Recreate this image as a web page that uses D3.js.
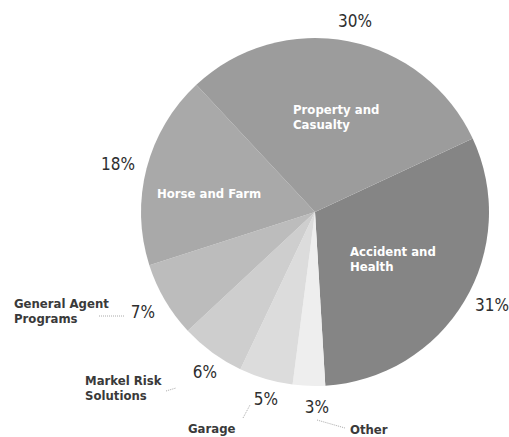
<!DOCTYPE html>
<html>
<head>
<meta charset="utf-8">
<script src="https://cdn.jsdelivr.net/npm/d3@7"></script>
<style>
  html, body { margin: 0; padding: 0; background: #fff; }
  svg { display: block; }
</style>
</head>
<body>
<svg id="chart" width="509" height="437"></svg>
<script>
// Data (clockwise from the Accident and Health slice)
const categories = ["Accident and Health", "Other", "Garage", "Markel Risk Solutions", "General Agent Programs", "Horse and Farm", "Property and Casualty"];
const values = [31, 3, 5, 6, 7, 18, 30];
const percentLabels = ["31%", "3%", "5%", "6%", "7%", "18%", "30%"];
const sliceColors = ["#858585", "#eeeeee", "#dcdcdc", "#cecece", "#bcbcbc", "#a9a9a9", "#9c9c9c"];

const svg = d3.select("#chart");
const cx = 315, cy = 212, r = 174;
const FONT = "'DejaVu Sans Condensed', 'Liberation Sans Narrow', 'Arial Narrow', sans-serif";

const data = categories.map((c, i) => ({ name: c, value: values[i], pct: percentLabels[i], color: sliceColors[i] }));

const pie = d3.pie().sort(null).value(d => d.value)
  .startAngle(65 * Math.PI / 180).endAngle(65 * Math.PI / 180 + 2 * Math.PI);
const arcs = pie(data);
const arc = d3.arc().innerRadius(0).outerRadius(r);

const g = svg.append("g").attr("transform", `translate(${cx},${cy})`);
g.selectAll("path.slice").data(arcs).join("path")
  .attr("class", "slice")
  .attr("d", arc)
  .attr("fill", d => d.data.color);

// Inside (white) labels
const inside = [
  { lines: ["Property and", "Casualty"], x: 293, y: 114 },
  { lines: ["Horse and Farm"], x: 157, y: 198 },
  { lines: ["Accident and", "Health"], x: 350, y: 256 }
];
inside.forEach(l => {
  const t = svg.append("text").attr("x", l.x).attr("y", l.y)
    .attr("fill", "#ffffff")
    .attr("font-family", FONT).attr("font-weight", "bold").attr("font-size", 13);
  l.lines.forEach((s, i) => t.append("tspan").attr("x", l.x).attr("dy", i === 0 ? 0 : 15).text(s));
});

// Percentage labels (outside)
const pctPos = { "31%": [492, 311], "3%": [317, 413], "5%": [266, 405], "6%": [205, 378], "7%": [143, 318], "18%": [118, 170], "30%": [355, 27] };
arcs.forEach(a => {
  const p = pctPos[a.data.pct];
  svg.append("text").attr("x", p[0]).attr("y", p[1]).attr("text-anchor", "middle")
    .attr("fill", "#2e2e2e").attr("font-family", FONT).attr("font-size", 17)
    .text(a.data.pct);
});

// Outside category labels
const outside = [
  { lines: ["General Agent", "Programs"], x: 14, y: 308 },
  { lines: ["Markel Risk", "Solutions"], x: 85, y: 385 },
  { lines: ["Garage"], x: 188, y: 433 },
  { lines: ["Other"], x: 350, y: 434 }
];
outside.forEach(l => {
  const t = svg.append("text").attr("x", l.x).attr("y", l.y)
    .attr("fill", "#3a3a3a").attr("font-family", FONT).attr("font-weight", "bold").attr("font-size", 13);
  l.lines.forEach((s, i) => t.append("tspan").attr("x", l.x).attr("dy", i === 0 ? 0 : 15).text(s));
});

// Leader lines (dotted)
const leaders = [
  [[99, 316], [124, 316]],
  [[166, 391], [176, 388]],
  [[243, 418], [250, 405]],
  [[317, 420], [345, 428]]
];
leaders.forEach(l => {
  svg.append("path").attr("d", d3.line()(l))
    .attr("stroke", "#aaaaaa").attr("stroke-width", 1).attr("stroke-dasharray", "1,1").attr("fill", "none");
});
</script>
</body>
</html>
